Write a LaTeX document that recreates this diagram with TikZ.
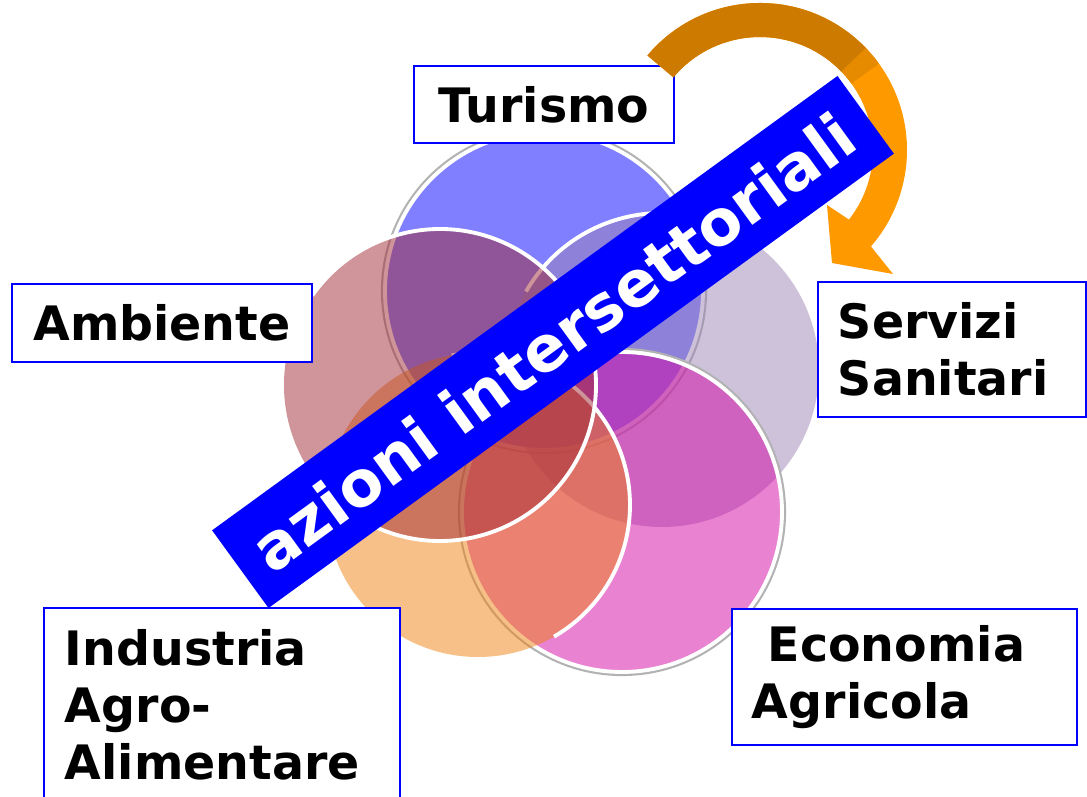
\documentclass[tikz,border=0pt]{standalone}
\usepackage{fontspec}
\setmainfont{DejaVu Sans}
\usetikzlibrary{calc}
\definecolor{turismo}{RGB}{0,0,255}
\definecolor{servizi}{RGB}{155,133,181}
\definecolor{ambiente}{RGB}{161,43,53}
\definecolor{industria}{RGB}{237,129,17}
\definecolor{economia}{RGB}{213,5,165}
\definecolor{arrowdark}{RGB}{204,122,0}
\definecolor{arrowmid}{RGB}{230,138,0}
\definecolor{arrowlight}{RGB}{255,153,0}
\definecolor{bannerblue}{RGB}{0,0,255}
\tikzset{
	disc/.style={fill opacity=0.5},
	rim/.style={draw=white, line width=1.1pt},
	bevel/.style={draw=gray!60, line width=0.9pt},
	sector/.style={draw=blue, line width=0.8pt, fill=white, align=left, inner sep=0pt,
		font=\fontsize{13.5}{16.2}\selectfont\bfseries},
	bannertxt/.style={rotate=36, inner sep=0pt, font=\fontsize{18}{22}\selectfont\bfseries},
}

\begin{document}
\begin{tikzpicture}
			%%%%% START %%%%%
			\useasboundingbox (0, 0) rectangle (10.87, -7.97);
			
			% Turismo
			\fill[turismo, disc] (5.44, -2.91) circle (1.59);
			\draw[bevel] (5.44, -2.91) circle (1.615);
			\draw[rim] (5.44, -2.91) circle (1.59);
			
			% Servizi Sanitari
			\fill[servizi, disc] (6.62, -3.70) circle (1.57);
			\draw[rim] (6.62, -3.70) ++(150:1.57) arc[start angle=150, end angle=70, radius=1.57];
			
			% Economia Agricola
			\fill[economia, disc] (6.22, -5.12) circle (1.60);
			\draw[bevel] (6.22, -5.12) circle (1.625);
			\draw[rim] (6.22, -5.12) circle (1.60);
			
			% Industria Agro-Alimentare
			\fill[industria, disc] (4.78, -5.05) circle (1.52);
			\draw[rim] (4.78, -5.05) ++(100:1.52) arc[start angle=100, end angle=-60, radius=1.52];
			
			% Ambiente
			\fill[ambiente, disc] (4.40, -3.85) circle (1.56);
			\draw[rim] (4.40, -3.85) ++(145:1.56) arc[start angle=145, end angle=-120, radius=1.56];
			
			\node[sector, minimum width=2.60cm, minimum height=0.77cm] (turismo) at (5.44, -1.045) {Turismo};
			\node[sector, minimum width=3.00cm, minimum height=0.78cm] (ambiente) at (1.62, -3.23) {Ambiente};
			\node[sector, text width=2.28cm, inner xsep=0.2cm, minimum height=1.35cm] (servizi) at (9.52, -3.495) {Servizi\\Sanitari};
			\node[sector, text width=3.05cm, inner xsep=0.2cm, minimum height=1.36cm] (economia) at (9.045, -6.77) {\ Economia\\Agricola};
			\node[sector, text width=3.14cm, inner xsep=0.21cm, minimum height=1.94cm] (industria) at (2.22, -7.05) {Industria\\Agro-\\Alimentare};
			
			% curved arrow
			\begin{scope}
				\clip (6.474, -0.555) arc[start angle=140, end angle=-41, radius=1.47]
					-- (8.93, -2.74) -- (8.32, -2.63) -- (8.27, -2.05) -- (8.490, -2.196)
					arc[start angle=-38, end angle=140, radius=1.13] -- cycle;
				\fill[arrowlight] (6.2, 0.2) rectangle (9.2, -3.0);
				\fill[arrowmid] (7.60, -1.50) -- +(36:2.2) -- +(44:2.2) -- cycle;
				\fill[arrowdark] (7.60, -1.50) -- +(44:2.2) -- +(90:2.2) -- +(180:2.2) -- +(230:2.2) -- cycle;
			\end{scope}
			
			% banner
			\node[fill=bannerblue, rotate=36, minimum width=7.73cm, minimum height=0.96cm] (banner) at (5.53, -3.42) {};
			\node[bannertxt, text=white] (bannertext) at (banner.center) {azioni intersettoriali};
			
			%%%%% END %%%%%
		\end{tikzpicture}
\end{document}
